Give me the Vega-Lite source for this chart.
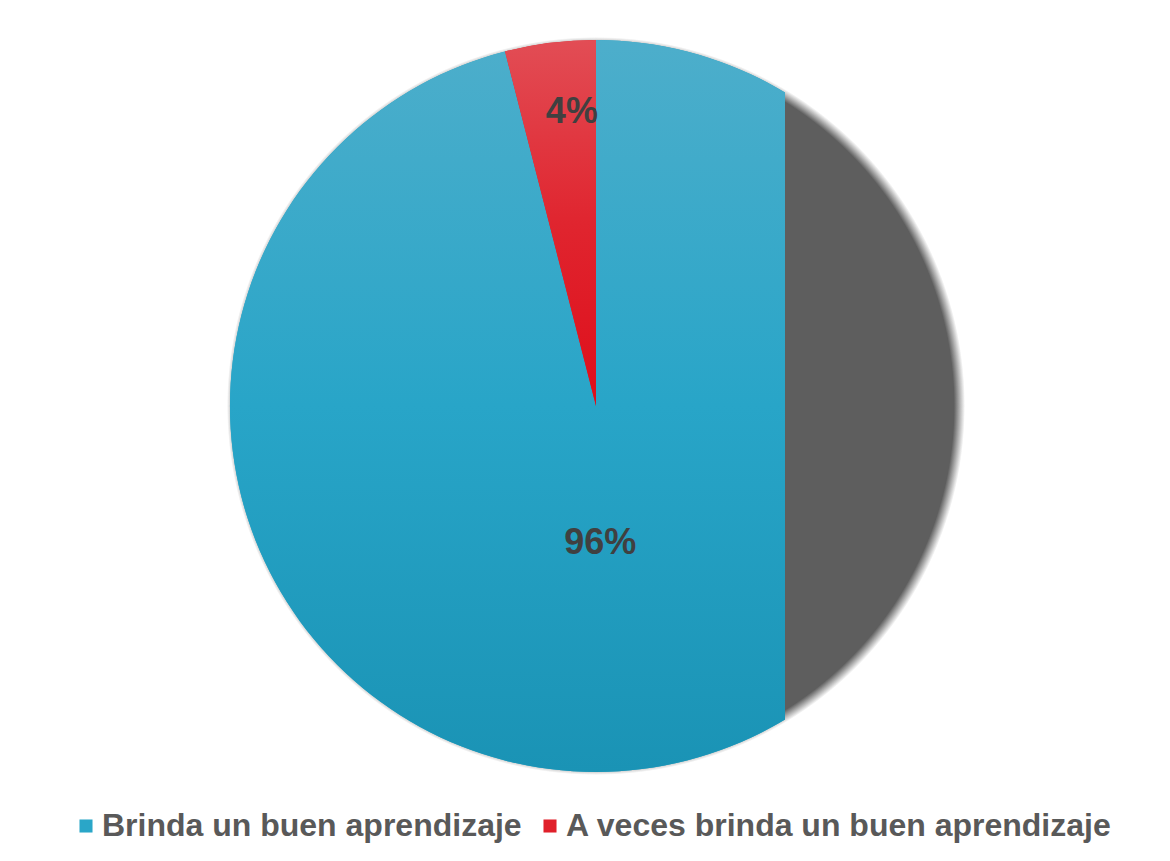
{
  "$schema": "https://vega.github.io/schema/vega-lite/v6.json",
  "width": 785,
  "height": 812,
  "autosize": {"type": "none"},
  "padding": {"left": 0, "top": 0, "right": 385, "bottom": 49},
  "background": "white",
  "config": {"view": {"stroke": null}},
  "data": {
    "values": [
      {"categoria": "Brinda un buen aprendizaje", "porcentaje": 96, "etiqueta": "96%"},
      {"categoria": "A veces brinda un buen aprendizaje", "porcentaje": 4, "etiqueta": "4%"}
    ]
  },
  "encoding": {
    "x": {"datum": 0, "type": "quantitative", "scale": {"domain": [-1.63, 0.517], "zero": false, "nice": false}, "axis": null}
  },
  "layer": [
    {
      "data": {"values": [{"fondo": "sombra"}]},
      "mark": {
        "type": "arc", "theta": 0, "theta2": 6.2832, "outerRadius": 369,
        "fill": {"gradient": "radial", "x1": 0.5, "y1": 0.5, "r1": 0, "x2": 0.5, "y2": 0.5, "r2": 0.5,
          "stops": [{"offset": 0, "color": "#5E5E5E"}, {"offset": 0.97, "color": "#5E5E5E"}, {"offset": 1, "color": "rgba(94,94,94,0)"}]}
      }
    },
    {
      "mark": {"type": "arc", "outerRadius": 366, "clip": true},
      "encoding": {
        "theta": {"field": "porcentaje", "type": "quantitative", "stack": true},
        "order": {"field": "porcentaje", "sort": "descending"},
        "color": {
          "field": "categoria", "type": "nominal",
          "scale": {"domain": ["Brinda un buen aprendizaje", "A veces brinda un buen aprendizaje"], "range": ["#2AA6C8", "#E0202A"]},
          "legend": {
            "orient": "none", "legendX": 70, "legendY": 810, "direction": "horizontal", "title": null,
            "symbolType": "square", "symbolSize": 170, "symbolStrokeWidth": 0,
            "labelFont": "Liberation Sans", "labelFontSize": 32, "labelFontWeight": "bold", "labelColor": "#595959",
            "labelLimit": 0, "columnPadding": 12, "labelOffset": 0
          }
        }
      }
    },
    {
      "mark": {"type": "arc", "outerRadius": 366, "clip": true},
      "encoding": {
        "theta": {"field": "porcentaje", "type": "quantitative", "stack": true},
        "order": {"field": "porcentaje", "sort": "descending"},
        "fill": {
          "condition": {"test": "datum.porcentaje == 4",
            "value": {"gradient": "linear", "x1": 0, "y1": 0, "x2": 0, "y2": 1,
              "stops": [{"offset": 0, "color": "#E24D55"}, {"offset": 0.5, "color": "#E0252F"}, {"offset": 1, "color": "#DE0E1A"}]}},
          "value": {"gradient": "linear", "x1": 0, "y1": 0, "x2": 0, "y2": 1,
            "stops": [{"offset": 0, "color": "#4DAECB"}, {"offset": 0.5, "color": "#28A5C8"}, {"offset": 1, "color": "#1A93B5"}]}
        }
      }
    },
    {
      "mark": {"type": "text", "radius": 138, "dx": -13, "font": "Liberation Sans", "fontSize": 36, "fontWeight": "bold", "color": "#404040", "baseline": "middle", "align": "center"},
      "encoding": {
        "theta": {"field": "porcentaje", "type": "quantitative", "stack": true},
        "order": {"field": "porcentaje", "sort": "descending"},
        "text": {"condition": {"test": "datum.porcentaje == 96", "field": "etiqueta"}, "value": ""}
      }
    },
    {
      "mark": {"type": "text", "radius": 296, "dx": 13, "font": "Liberation Sans", "fontSize": 36, "fontWeight": "bold", "color": "#404040", "baseline": "middle", "align": "center"},
      "encoding": {
        "theta": {"field": "porcentaje", "type": "quantitative", "stack": true},
        "order": {"field": "porcentaje", "sort": "descending"},
        "text": {"condition": {"test": "datum.porcentaje == 4", "field": "etiqueta"}, "value": ""}
      }
    }
  ]
}
